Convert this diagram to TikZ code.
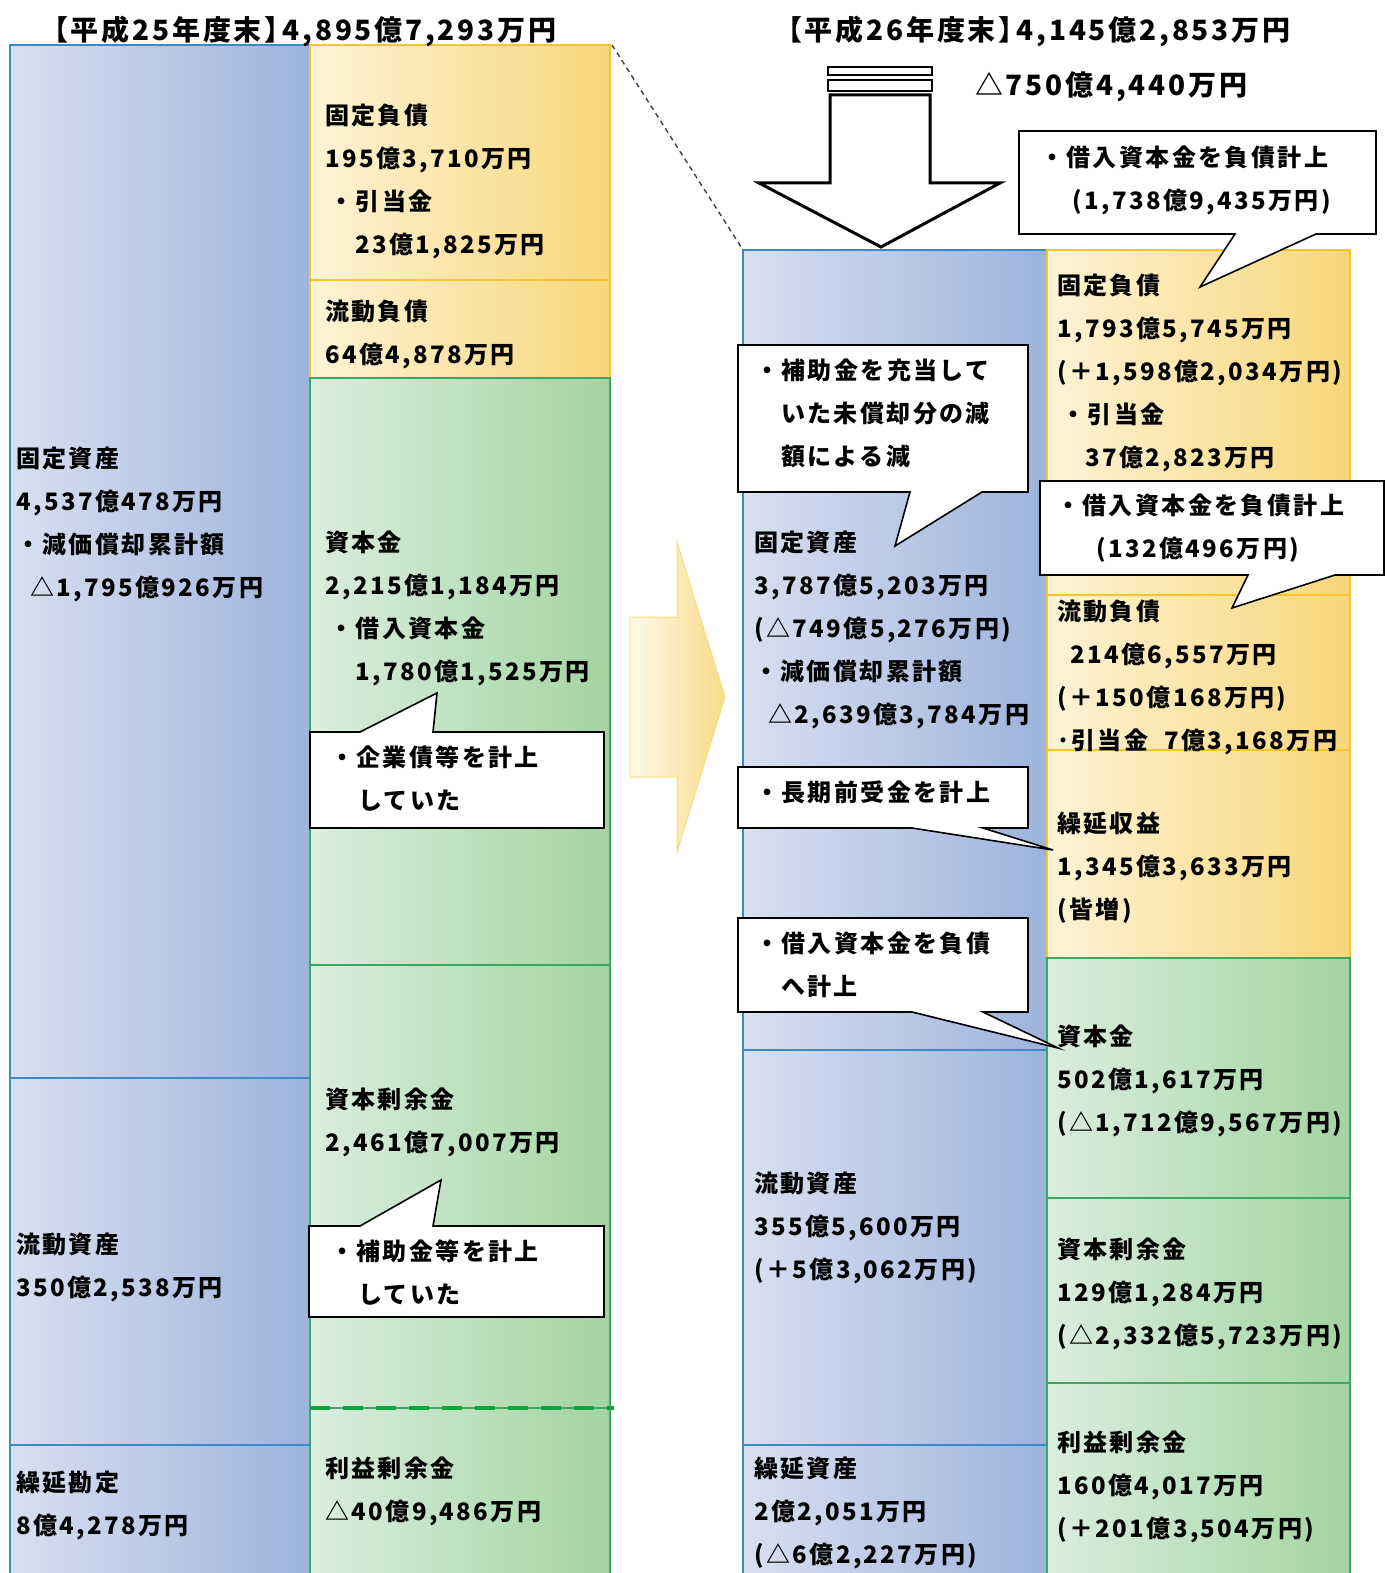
\documentclass[tikz,border=0pt]{standalone}
\usepackage{fontspec}
\setmainfont{Noto Sans CJK JP}[LetterSpace=10]
\usetikzlibrary{positioning}
\definecolor{blueL}{HTML}{D8E0F1}
\definecolor{blueR}{HTML}{9DB3DC}
\definecolor{blueE}{HTML}{3D8BC5}
\definecolor{yelL}{HTML}{FDF3D6}
\definecolor{yelR}{HTML}{F8D67A}
\definecolor{yelE}{HTML}{F2C62C}
\definecolor{grnL}{HTML}{DAEEDD}
\definecolor{grnR}{HTML}{A3D4A2}
\definecolor{grnE}{HTML}{3BA761}
\definecolor{grnD}{HTML}{10A33F}
\tikzset{
	asset/.style={left color=blueL,right color=blueR,draw=blueE,line width=2pt},
	debt/.style={left color=yelL,right color=yelR,draw=yelE,line width=2.5pt},
	equity/.style={left color=grnL,right color=grnR,draw=grnE,line width=2pt},
	val/.style={anchor=base west,inner sep=0pt,align=left,font=\bfseries\fontsize{24}{43}\selectfont},
	head/.style={anchor=base west,inner sep=0pt,font=\bfseries\fontsize{28}{28}\selectfont},
	balloon/.style={draw=black,fill=white,line width=1.6pt,line join=miter},
}
\begin{document}
\begin{tikzpicture}[x=1pt,y=-1pt]
	\useasboundingbox (0,0) rectangle (1386,1573);
	% H25 blocks
	\path[asset] (10,45) rectangle (310,1078);
	\path[asset] (10,1078) rectangle (310,1445);
	\path[asset] (10,1445) rectangle (310,1590);
	\path[debt] (310,45) rectangle (610,280);
	\path[debt] (310,280) rectangle (610,378);
	\path[equity] (310,378) rectangle (610,965);
	\path[equity] (310,965) rectangle (610,1408);
	\path[equity] (310,1408) rectangle (610,1590);
	\draw[grnD,line width=4pt,dash pattern=on 20pt off 13pt] (310,1408) -- (614,1408);
	% H26 blocks
	\path[asset] (743,250) rectangle (1047,1050);
	\path[asset] (743,1050) rectangle (1047,1445);
	\path[asset] (743,1445) rectangle (1047,1590);
	\path[debt] (1047,250) rectangle (1350,595);
	\path[debt] (1047,595) rectangle (1350,750);
	\path[debt] (1047,750) rectangle (1350,958);
	\path[equity] (1047,958) rectangle (1350,1198);
	\path[equity] (1047,1198) rectangle (1350,1383);
	\path[equity] (1047,1383) rectangle (1350,1590);
	% guide line
	\coordinate (top25) at (612,45);
	\coordinate (top26) at (743,250);
	\draw[black!75,line width=1.4pt,dash pattern=on 5pt off 4pt] (top25) -- (top26);
	% arrows
	\path[left color=yelL!50!white,right color=yelR!90,draw=yelE!60,line width=1pt] (630,617) -- (677,617) -- (677,542) -- (725,697) -- (677,852) -- (677,777) -- (630,777) -- cycle;
	\draw[line width=3pt,fill=white,line join=miter] (830,95) -- (930,95) -- (930,183) -- (1000,183) -- (881,247) -- (759,183) -- (830,183) -- cycle;
	\draw[line width=2.5pt,fill=white] (828,67) rectangle (932,75);
	\draw[line width=2.5pt,fill=white] (828,80) rectangle (932,91);
	% callouts
	\draw[balloon] (310,732) -- (360,732) -- (437,693) -- (433,732) -- (604,732) -- (604,828) -- (310,828) -- cycle;
	\draw[balloon] (309,1226) -- (360,1226) -- (441,1180) -- (433,1226) -- (604,1226) -- (604,1317) -- (309,1317) -- cycle;
	\draw[balloon] (1019,131) -- (1376,131) -- (1376,234) -- (1316,234) -- (1200,287) -- (1235,234) -- (1019,234) -- cycle;
	\draw[balloon] (738,345) -- (1028,345) -- (1028,492) -- (982,492) -- (895,546) -- (910,492) -- (738,492) -- cycle;
	\draw[balloon] (1040,481) -- (1384,481) -- (1384,575) -- (1335,575) -- (1232,608) -- (1248,575) -- (1040,575) -- cycle;
	\draw[balloon] (738,767) -- (1028,767) -- (1028,828) -- (983,828) -- (1053,850) -- (912,828) -- (738,828) -- cycle;
	\draw[balloon] (738,918) -- (1028,918) -- (1028,1012) -- (983,1012) -- (1058,1048) -- (912,1012) -- (738,1012) -- cycle;
	% titles
	\node[head] (t25) at (40,41) {【平成25年度末】\hspace{-10pt}4,895億7,293万円};
	\node[head] (t26) at (774,41) {【平成26年度末】\hspace{-10pt}4,145億2,853万円};
	\node[head] (diff) at (975,96) {△750億4,440万円};
	% H25 texts (placed at the baseline of the last line)
	\node[val] (fa25) at (16,596) {固定資産\\4,537億478万円\\・減価償却累計額\\\hspace{14pt}△1,795億926万円};
	\node[val] (ca25) at (16,1296) {流動資産\\350億2,538万円};
	\node[val] (da25) at (16,1534) {繰延勘定\\8億4,278万円};
	\node[val] (fl25) at (325,253) {固定負債\\195億3,710万円\\\hspace{4pt}・引当金\\\hspace{30pt}23億1,825万円};
	\node[val] (cl25) at (325,363) {流動負債\\64億4,878万円};
	\node[val] (cp25) at (325,680) {資本金\\2,215億1,184万円\\\hspace{4pt}・借入資本金\\\hspace{30pt}1,780億1,525万円};
	\node[val] (cs25) at (325,1151) {資本剰余金\\2,461億7,007万円};
	\node[val] (re25) at (325,1520) {利益剰余金\\△40億9,486万円};
	\node[val] (n1) at (330,809) {・企業債等を計上\\\hspace{28pt}していた};
	\node[val] (n2) at (330,1303) {・補助金等を計上\\\hspace{28pt}していた};
	% H26 texts
	\node[val] (fa26) at (754,723) {固定資産\\3,787億5,203万円\\(△749億5,276万円)\\・減価償却累計額\\\hspace{14pt}△2,639億3,784万円};
	\node[val] (ca26) at (754,1278) {流動資産\\355億5,600万円\\(＋5億3,062万円)};
	\node[val] (da26) at (754,1563) {繰延資産\\2億2,051万円\\(△6億2,227万円)};
	\node[val] (fl26) at (1057,466) {固定負債\\1,793億5,745万円\\(＋1,598億2,034万円)\\\hspace{4pt}・引当金\\\hspace{28pt}37億2,823万円};
	\node[val] (cl26) at (1057,749) {流動負債\\\hspace{13pt}214億6,557万円\\(＋150億168万円)\\･引当金\hspace{16pt}7億3,168万円};
	\node[val] (dr26) at (1057,918) {繰延収益\\1,345億3,633万円\\(皆増)};
	\node[val] (cp26) at (1057,1131) {資本金\\502億1,617万円\\(△1,712億9,567万円)};
	\node[val] (cs26) at (1057,1344) {資本剰余金\\129億1,284万円\\(△2,332億5,723万円)};
	\node[val] (re26) at (1057,1537) {利益剰余金\\160億4,017万円\\(＋201億3,504万円)};
	\node[val] (n3) at (1040,209) {・借入資本金を負債計上\\\hspace{32pt}(1,738億9,435万円)};
	\node[val] (n4) at (755,465) {・補助金を充当して\\\hspace{26pt}いた未償却分の減\\\hspace{26pt}額による減};
	\node[val] (n5) at (1056,557) {・借入資本金を負債計上\\\hspace{40pt}(132億496万円)};
	\node[val] (n6) at (755,801) {・長期前受金を計上};
	\node[val] (n7) at (755,995) {・借入資本金を負債\\\hspace{26pt}へ計上};
\end{tikzpicture}
\end{document}
